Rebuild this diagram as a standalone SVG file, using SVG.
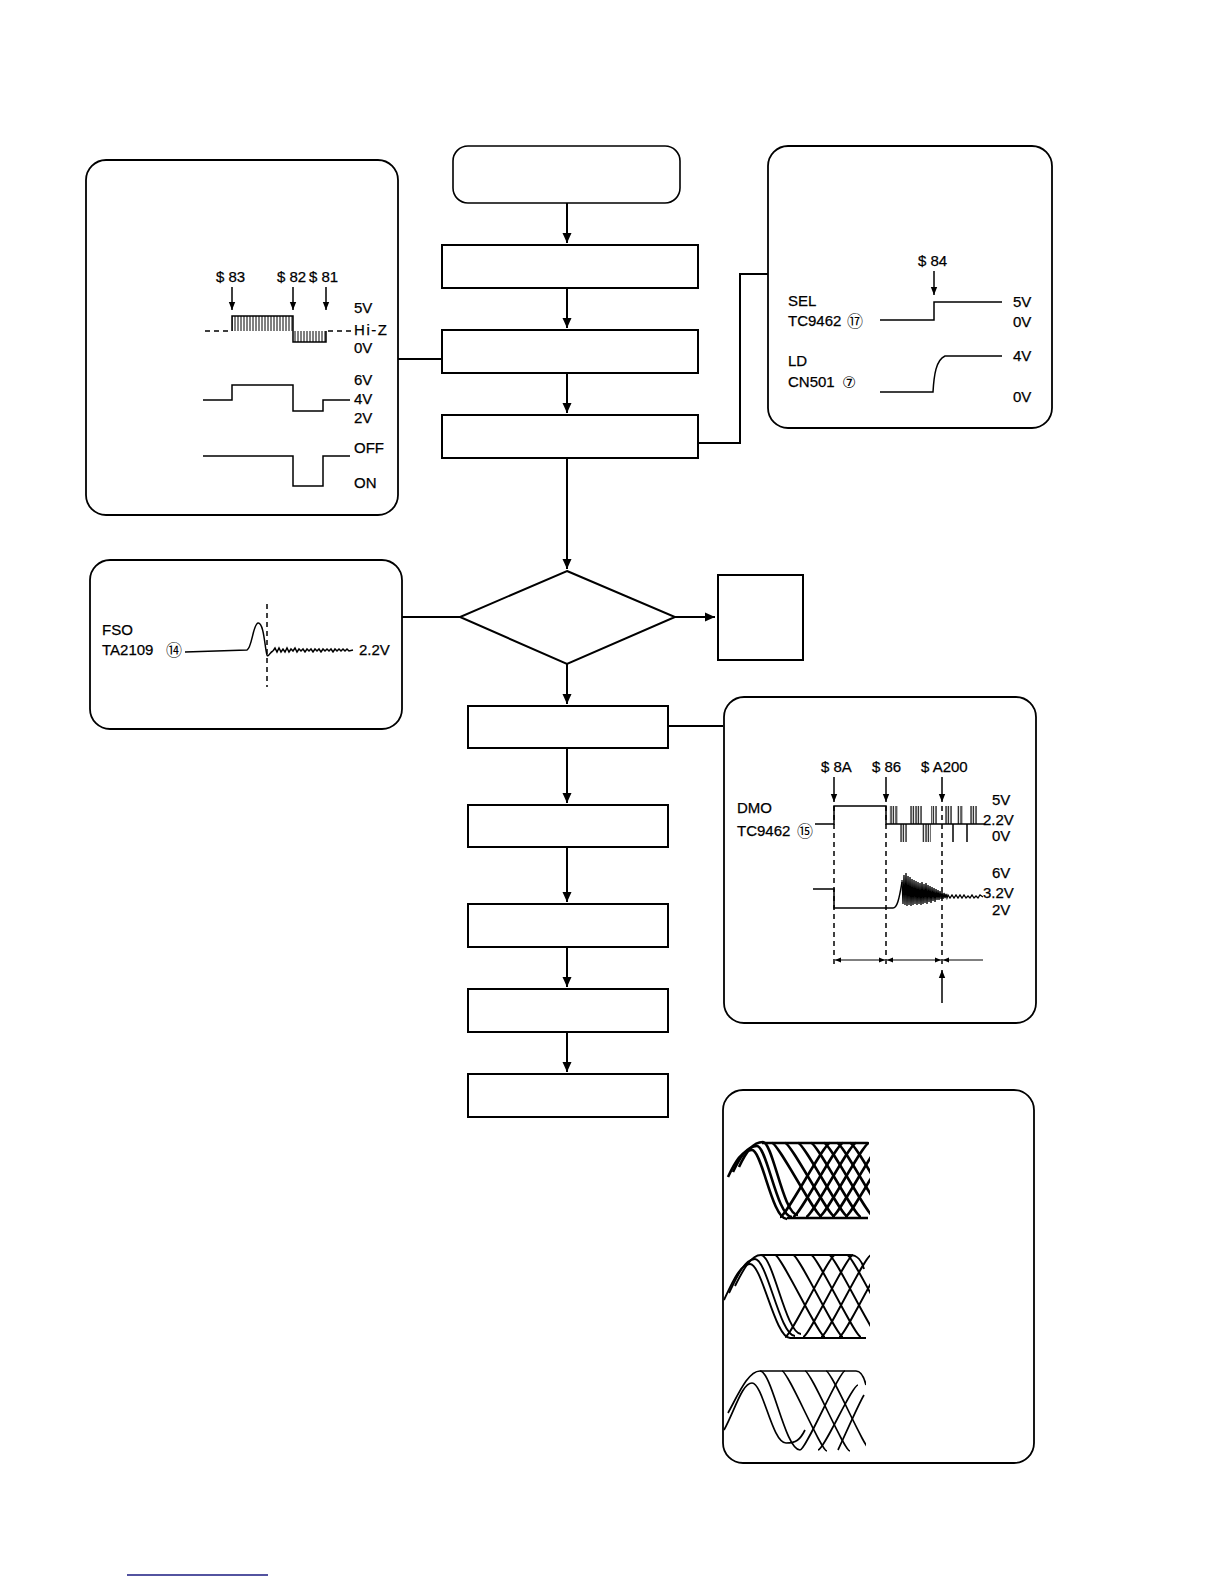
<svg xmlns="http://www.w3.org/2000/svg" width="1224" height="1584" viewBox="0 0 1224 1584">
<style>
.t{font-family:"Liberation Sans",Arial,sans-serif;font-size:15px;fill:#000;stroke:#000;stroke-width:0.25}
.c{font-family:"DejaVu Sans","Noto Sans CJK JP",sans-serif;font-size:16px;fill:#000}
.panel{fill:#fff;stroke:#000;stroke-width:1.8}
.box{fill:#fff;stroke:#000;stroke-width:2}
.ln{fill:none;stroke:#000;stroke-width:2}
.w{fill:none;stroke:#000;stroke-width:1.5}
.d{fill:none;stroke:#000;stroke-width:1.5;stroke-dasharray:5,4}
.e1{fill:none;stroke:#000;stroke-width:2.6}
.e2{fill:none;stroke:#000;stroke-width:1.9}
.e3{fill:none;stroke:#000;stroke-width:1.7}
</style>
<defs>
<marker id="ah" markerUnits="userSpaceOnUse" markerWidth="10" markerHeight="10" refX="10" refY="5" orient="auto"><path d="M0,0.5 L10,5 L0,9.5 z" fill="#000"/></marker>
<marker id="sa" markerUnits="userSpaceOnUse" markerWidth="8" markerHeight="8" refX="8" refY="4" orient="auto"><path d="M0,0.8 L8,4 L0,7.2 z" fill="#000"/></marker>
<marker id="da" markerUnits="userSpaceOnUse" markerWidth="6" markerHeight="6" refX="6" refY="3" orient="auto-start-reverse"><path d="M0,0.5 L6,3 L0,5.5 z" fill="#000"/></marker>
<pattern id="vh" width="3" height="20" patternUnits="userSpaceOnUse"><line x1="1" y1="0" x2="1" y2="20" stroke="#000" stroke-width="1"/></pattern>
<pattern id="vd" width="2.5" height="20" patternUnits="userSpaceOnUse"><line x1="1" y1="0" x2="1" y2="20" stroke="#000" stroke-width="1.2"/></pattern>
<clipPath id="c1"><rect x="720" y="1130" width="150" height="95"/></clipPath>
<clipPath id="c2"><rect x="720" y="1245" width="150" height="100"/></clipPath>
<clipPath id="c3"><rect x="718" y="1360" width="148" height="95"/></clipPath>
</defs>
<rect width="1224" height="1584" fill="#fff"/>

<g id="connectors">
<line class="ln" x1="567" y1="203" x2="567" y2="243" marker-end="url(#ah)"/>
<line class="ln" x1="567" y1="288" x2="567" y2="328" marker-end="url(#ah)"/>
<line class="ln" x1="567" y1="373" x2="567" y2="413" marker-end="url(#ah)"/>
<line class="ln" x1="567" y1="458" x2="567" y2="569" marker-end="url(#ah)"/>
<line class="ln" x1="567" y1="664" x2="567" y2="704" marker-end="url(#ah)"/>
<line class="ln" x1="675" y1="617" x2="715" y2="617" marker-end="url(#ah)"/>
<line class="ln" x1="567" y1="748" x2="567" y2="803" marker-end="url(#ah)"/>
<line class="ln" x1="567" y1="847" x2="567" y2="902" marker-end="url(#ah)"/>
<line class="ln" x1="567" y1="947" x2="567" y2="987" marker-end="url(#ah)"/>
<line class="ln" x1="567" y1="1032" x2="567" y2="1072" marker-end="url(#ah)"/>
<line class="ln" x1="398" y1="359" x2="442" y2="359"/>
<polyline class="ln" points="698,443 740,443 740,274 768,274"/>
<line class="ln" x1="402" y1="617" x2="460" y2="617"/>
<line class="ln" x1="668" y1="726" x2="723" y2="726"/>
</g>

<g id="start"><rect x="453" y="146" width="227" height="57" rx="15" fill="#fff" stroke="#000" stroke-width="1.6"/></g>
<g id="box1"><rect class="box" x="442" y="245" width="256" height="43"/></g>
<g id="box2"><rect class="box" x="442" y="330" width="256" height="43"/></g>
<g id="box3"><rect class="box" x="442" y="415" width="256" height="43"/></g>
<g id="decision"><polygon points="567,571 675,617 567,664 460,617" fill="#fff" stroke="#000" stroke-width="2"/></g>
<g id="sidebox"><rect class="box" x="718" y="575" width="85" height="85"/></g>
<g id="box4"><rect class="box" x="468" y="706" width="200" height="42"/></g>
<g id="box5"><rect class="box" x="468" y="805" width="200" height="42"/></g>
<g id="box6"><rect class="box" x="468" y="904" width="200" height="43"/></g>
<g id="box7"><rect class="box" x="468" y="989" width="200" height="43"/></g>
<g id="box8"><rect class="box" x="468" y="1074" width="200" height="43"/></g>

<g id="panel-focus">
<rect class="panel" x="86" y="160" width="312" height="355" rx="20"/>
<text class="t" x="216" y="282">$ 83</text>
<text class="t" x="277" y="282">$ 82</text>
<text class="t" x="309" y="282">$ 81</text>
<line class="w" x1="232" y1="287" x2="232" y2="310" marker-end="url(#sa)"/>
<line class="w" x1="293" y1="287" x2="293" y2="310" marker-end="url(#sa)"/>
<line class="w" x1="326" y1="287" x2="326" y2="310" marker-end="url(#sa)"/>
<rect x="232" y="316" width="61" height="15" fill="url(#vh)"/>
<rect x="293" y="331" width="33" height="11" fill="url(#vh)"/>
<line class="d" x1="205" y1="331" x2="232" y2="331"/>
<polyline class="w" points="232,331 232,316 293,316 293,342 326,342 326,331"/>
<line class="d" x1="328" y1="331" x2="352" y2="331"/>
<text class="t" x="354" y="313">5V</text>
<text class="t" x="354" y="335" textLength="33" lengthAdjust="spacing">Hi-Z</text>
<text class="t" x="354" y="353">0V</text>
<polyline class="w" points="203,400 232,400 232,385 293,385 293,411 323,411 323,400 350,400"/>
<text class="t" x="354" y="385">6V</text>
<text class="t" x="354" y="404">4V</text>
<text class="t" x="354" y="423">2V</text>
<polyline class="w" points="203,456 293,456 293,486 323,486 323,456 350,456"/>
<text class="t" x="354" y="453">OFF</text>
<text class="t" x="354" y="488">ON</text>
</g>

<g id="panel-laser">
<rect class="panel" x="768" y="146" width="284" height="282" rx="20"/>
<text class="t" x="918" y="266">$ 84</text>
<line class="w" x1="934" y1="271" x2="934" y2="295" marker-end="url(#sa)"/>
<text class="t" x="788" y="306">SEL</text>
<text class="t" x="788" y="326">TC9462</text>
<text class="c" x="847" y="327">⑰</text>
<polyline class="w" points="880,320 934,320 934,302 1002,302"/>
<text class="t" x="1013" y="307">5V</text>
<text class="t" x="1013" y="327">0V</text>
<text class="t" x="788" y="366">LD</text>
<text class="t" x="788" y="387">CN501</text>
<text class="c" x="842" y="388">⑦</text>
<path class="w" d="M880,392 H933 C934,375 936,360 945,356 H1002"/>
<text class="t" x="1013" y="361">4V</text>
<text class="t" x="1013" y="402">0V</text>
</g>

<g id="panel-fso">
<rect class="panel" x="90" y="560" width="312" height="169" rx="20"/>
<text class="t" x="102" y="635">FSO</text>
<text class="t" x="102" y="655">TA2109</text>
<text class="c" x="166" y="656">⑭</text>
<path class="w" d="M185,652 L247,650 C252,648 253,624 258,623 C264,622 265,650 267,655 C268,658 270,652 273,651"/>
<polyline class="w" points="273,651 275,648 277,652 279,648 281,652 283,649 285,652 287,648 289,652 291,649 293,651 295,648 297,652 299,649 301,651 303,649 305,652 307,649 309,651 311,649 313,652 315,649 317,651 319,649 321,652 323,649 325,651 327,649 329,651 331,649 333,652 335,649 337,651 339,649 341,651 343,649 345,651 347,649 349,651 353,650"/>
<line class="d" x1="267" y1="604" x2="267" y2="687"/>
<text class="t" x="359" y="655">2.2V</text>
</g>

<g id="panel-dmo">
<rect class="panel" x="724" y="697" width="312" height="326" rx="20"/>
<text class="t" x="821" y="772">$ 8A</text>
<text class="t" x="872" y="772">$ 86</text>
<text class="t" x="921" y="772">$ A200</text>
<line class="w" x1="834" y1="777" x2="834" y2="802" marker-end="url(#sa)"/>
<line class="w" x1="886" y1="777" x2="886" y2="802" marker-end="url(#sa)"/>
<line class="w" x1="942" y1="777" x2="942" y2="802" marker-end="url(#sa)"/>
<text class="t" x="737" y="813">DMO</text>
<text class="t" x="737" y="836">TC9462</text>
<text class="c" x="797" y="837">⑮</text>
<polyline class="w" points="815,824 834,824 834,806 886,806 886,824 980,824"/>
<line class="d" x1="980" y1="824" x2="988" y2="824"/>
<rect x="889" y="806" width="9" height="18" fill="url(#vd)"/>
<rect x="910" y="806" width="12" height="18" fill="url(#vd)"/>
<rect x="931" y="806" width="6" height="18" fill="url(#vd)"/>
<rect x="945" y="806" width="7" height="18" fill="url(#vd)"/>
<rect x="957" y="806" width="6" height="18" fill="url(#vd)"/>
<rect x="970" y="806" width="7" height="18" fill="url(#vd)"/>
<rect x="900" y="824" width="7" height="18" fill="url(#vd)"/>
<rect x="922" y="824" width="9" height="18" fill="url(#vd)"/>
<line class="w" x1="953" y1="824" x2="953" y2="842"/>
<line class="w" x1="967" y1="824" x2="967" y2="842"/>
<text class="t" x="992" y="805">5V</text>
<text class="t" x="983" y="825">2.2V</text>
<text class="t" x="992" y="841">0V</text>
<path class="w" d="M813,889 H834 V908 H893 C897,908 899,900 902,882"/>
<polyline fill="none" stroke="#000" stroke-width="1.3" points="902,880 903,904 904,875 905,905 906,873 907,906 908,876 909,905 910,877 911,906 912,879 913,905 914,880 915,904 916,881 917,905 918,882 919,904 920,883 921,905 922,882 923,904 924,884 925,903 926,883 927,904 928,885 929,902 930,886 931,903 932,887 933,901 934,888 935,902 936,889 937,900 938,890 939,900 940,891 941,899 942,892 943,899 944,893 945,898 946,894 947,898 948,895 950,898 952,895 954,898 956,895 958,898 960,895 962,898 964,895 966,898 968,896 970,898 972,895 974,898 976,896 978,898 980,895 983,897"/>
<text class="t" x="992" y="878">6V</text>
<text class="t" x="983" y="898">3.2V</text>
<text class="t" x="992" y="915">2V</text>
<line class="d" x1="834" y1="806" x2="834" y2="964"/>
<line class="d" x1="886" y1="806" x2="886" y2="964"/>
<line class="d" x1="942" y1="806" x2="942" y2="964"/>
<line x1="835" y1="960" x2="885" y2="960" stroke="#000" stroke-width="1" marker-start="url(#da)" marker-end="url(#da)"/>
<line x1="887" y1="960" x2="941" y2="960" stroke="#000" stroke-width="1" marker-start="url(#da)" marker-end="url(#da)"/>
<line x1="943" y1="960" x2="983" y2="960" stroke="#000" stroke-width="1" marker-start="url(#da)"/>
<line class="w" x1="942" y1="1003" x2="942" y2="970" marker-end="url(#sa)"/>
</g>

<g id="panel-eye">
<rect class="panel" x="723" y="1090" width="311" height="373" rx="20"/>
<g clip-path="url(#c1)" class="e1">
<path d="M728,1177 C735,1162 742,1150 752,1150 C762,1150 772,1219 787,1219"/>
<path d="M733,1172 C740,1157 747,1146 757,1146 C767,1146 777,1217 792,1217"/>
<path d="M739,1167 C746,1152 753,1142 763,1142 C773,1142 783,1215 798,1215"/>
<path d="M762,1143 H868"/>
<path d="M787,1218 H868"/>
<path d="M772,1143 c6,0 44,74 50,74"/>
<path d="M785,1143 c6,0 44,74 50,74"/>
<path d="M798,1143 c6,0 44,74 50,74"/>
<path d="M811,1143 c6,0 44,74 50,74"/>
<path d="M824,1143 c6,0 44,74 50,74"/>
<path d="M837,1143 c6,0 44,74 50,74"/>
<path d="M850,1143 c6,0 44,74 50,74"/>
<path d="M780,1217 c6,0 44,-74 50,-74"/>
<path d="M793,1217 c6,0 44,-74 50,-74"/>
<path d="M806,1217 c6,0 44,-74 50,-74"/>
<path d="M819,1217 c6,0 44,-74 50,-74"/>
<path d="M832,1217 c6,0 44,-74 50,-74"/>
<path d="M845,1217 c6,0 44,-74 50,-74"/>
</g>
<g clip-path="url(#c2)" class="e2">
<path d="M724,1300 C732,1283 740,1264 750,1264 C762,1264 775,1338 790,1338"/>
<path d="M729,1293 C737,1276 745,1259 755,1259 C767,1259 780,1336 795,1336"/>
<path d="M735,1286 C743,1270 751,1255 761,1255 C773,1255 786,1334 801,1334"/>
<path d="M761,1255 H850 c7,0 12,6 14,14"/>
<path d="M790,1338 H866"/>
<path d="M775,1255 c6,0 44,82 50,82"/>
<path d="M793,1255 c6,0 44,82 50,82"/>
<path d="M811,1255 c6,0 44,82 50,82"/>
<path d="M829,1255 c6,0 44,82 50,82"/>
<path d="M847,1255 c6,0 44,82 50,82"/>
<path d="M785,1337 c6,0 44,-82 50,-82"/>
<path d="M803,1337 c6,0 44,-82 50,-82"/>
<path d="M821,1337 c6,0 44,-82 50,-82"/>
<path d="M839,1337 c6,0 44,-82 50,-82"/>
</g>
<g clip-path="url(#c3)" class="e3">
<path d="M728,1413 C738,1395 748,1371 760,1371 C772,1371 785,1450 800,1450"/>
<path d="M724,1430 C735,1410 742,1383 752,1383 C763,1383 772,1443 786,1443 C796,1443 800,1440 805,1430"/>
<path d="M760,1371 H856 c5,0 8,6 10,14"/>
<path d="M782,1371 c6,0 39,80 45,80"/>
<path d="M805,1371 c6,0 39,80 45,80"/>
<path d="M826,1371 c6,0 39,80 45,80"/>
<path d="M800,1450 c6,0 39,-79 45,-79"/>
<path d="M818,1450 c6,0 34,-65 40,-65"/>
<path d="M838,1450 c4,-8 20,-45 26,-55"/>
</g>
</g>

<line x1="127" y1="1575" x2="268" y2="1575" stroke="#1a1a80" stroke-width="1.5"/>
</svg>
